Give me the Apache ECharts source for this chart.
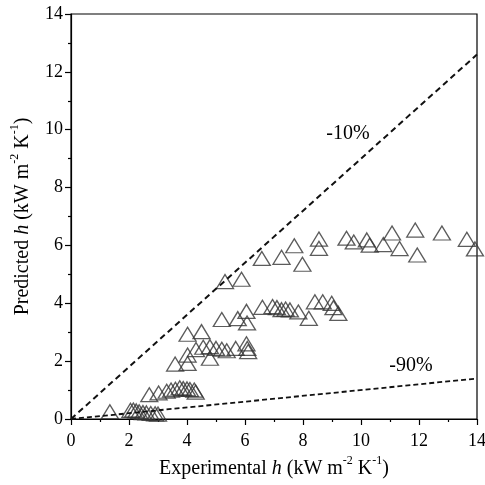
<!DOCTYPE html>
<html><head><meta charset="utf-8">
<script src="https://cdn.jsdelivr.net/npm/echarts@6/dist/echarts.min.js"></script>
<style>html,body{margin:0;padding:0;background:#fff}#c{width:485px;height:485px}</style>
</head><body><div id="c"></div>
<script>
const xTicks = [0, 2, 4, 6, 8, 10, 12, 14];
const yTicks = [0, 2, 4, 6, 8, 10, 12, 14];
// Experimental h, Predicted h
const bottomCluster = [[1.34,0.25],[2.05,0.3],[2.15,0.31],[2.25,0.28],[2.35,0.25],[2.48,0.22],[2.6,0.21],[2.75,0.19],[2.9,0.18],[3.0,0.17]];
const lowCluster = [[2.7,0.84],[3.02,0.9],[3.3,0.96],[3.45,1.0],[3.6,1.03],[3.75,1.08],[3.87,1.05],[4.0,1.04],[4.1,1.02],[4.25,1.0],[4.3,0.93]];
const lowerMidCluster = [[3.59,1.9],[4.02,2.93],[4.5,3.02],[4.02,2.21],[4.02,1.92],[4.31,2.4],[4.56,2.48],[4.79,2.5],[4.79,2.1],[5.0,2.44],[5.2,2.41],[5.37,2.36],[5.68,2.44],[6.05,2.6],[6.08,2.44],[6.11,2.33]];
const midCluster = [[5.2,3.44],[5.75,3.47],[6.05,3.72],[6.07,3.32],[6.6,3.86],[6.95,3.89],[7.1,3.85],[7.26,3.78],[7.4,3.8],[7.55,3.77],[7.84,3.7],[8.2,3.48],[8.41,4.05],[8.68,4.05],[8.99,4.0],[9.05,3.85],[9.22,3.65]];
const topCluster = [[5.31,4.75],[5.88,4.83],[6.58,5.55],[7.26,5.59],[7.7,5.99],[7.98,5.35],[8.55,6.22],[8.55,5.9],[9.5,6.25],[9.75,6.12],[10.2,6.19],[10.3,6.01],[10.77,6.03],[11.07,6.43],[11.33,5.89],[11.87,6.53],[11.94,5.67],[12.79,6.43],[13.65,6.21],[13.93,5.88]];
const line10 = [[0,0],[14,12.6]];
const line90 = [[0,0],[14,1.4]];
const label10 = [9.55, 9.85];
const label90 = [11.72, 1.85];

const points = [].concat(bottomCluster, lowCluster, lowerMidCluster, midCluster, topCluster);
const font = '"Liberation Serif", "Times New Roman", serif';
const rich = {
  n: {fontFamily: font, fontSize: 20, color: '#000', lineHeight: 24, verticalAlign: 'bottom'},
  i: {fontFamily: font, fontSize: 20, fontStyle: 'italic', color: '#000', lineHeight: 24, verticalAlign: 'bottom'},
  s: {fontFamily: font, fontSize: 12, color: '#000', lineHeight: 24, verticalAlign: 'top'}
};
const chart = echarts.init(document.getElementById('c'));
chart.setOption({
  animation: false,
  grid: {left: 71, right: 8, top: 14, bottom: 66, show: true, borderColor: '#000', borderWidth: 1.2,
         containLabel: false, outerBoundsMode: 'none'},
  xAxis: {
    type: 'value', min: 0, max: 14, interval: 2,
    name: '{n|Experimental }{i|h}{n| (kW m}{s|-2}{n| K}{s|-1}{n|)}',
    nameLocation: 'middle', nameGap: 35, nameTextStyle: {rich: rich},
    axisLine: {show: true, onZero: false, lineStyle: {color: '#000', width: 1.2}},
    axisTick: {show: true, length: 6, lineStyle: {color: '#000', width: 1.2}},
    minorTick: {show: true, splitNumber: 2, length: 3, lineStyle: {color: '#000', width: 1.2}},
    splitLine: {show: false},
    axisLabel: {fontFamily: font, fontSize: 18, color: '#000', margin: 13}
  },
  yAxis: {
    type: 'value', min: 0, max: 14, interval: 2,
    name: '{n|Predicted }{i|h}{n| (kW m}{s|-2}{n| K}{s|-1}{n|)}',
    nameLocation: 'middle', nameGap: 38, nameRotate: 90, nameTextStyle: {rich: rich},
    axisLine: {show: true, onZero: false, lineStyle: {color: '#000', width: 1.2}},
    axisTick: {show: true, length: 6, lineStyle: {color: '#000', width: 1.2}},
    minorTick: {show: true, splitNumber: 2, length: 3, lineStyle: {color: '#000', width: 1.2}},
    splitLine: {show: false},
    axisLabel: {fontFamily: font, fontSize: 18, color: '#000', margin: 8}
  },
  series: [
    {type: 'line', data: line10, symbol: 'none', silent: true,
     lineStyle: {color: '#111', width: 2, type: [6, 4]},
     markPoint: {symbol: 'circle', symbolSize: 0, data: [{coord: label10, label: {show: true, formatter: '-10%', fontFamily: font, fontSize: 20, color: '#000'}}]}},
    {type: 'line', data: line90, symbol: 'none', silent: true,
     lineStyle: {color: '#111', width: 1.8, type: [5, 3]},
     markPoint: {symbol: 'circle', symbolSize: 0, data: [{coord: label90, label: {show: true, formatter: '-90%', fontFamily: font, fontSize: 20, color: '#000'}}]}},
    {type: 'scatter', data: points, symbol: 'triangle', symbolSize: [17, 14],
     itemStyle: {color: 'rgba(255,255,255,0)', borderColor: '#333', borderWidth: 1.3}}
  ]
});
</script></body></html>
